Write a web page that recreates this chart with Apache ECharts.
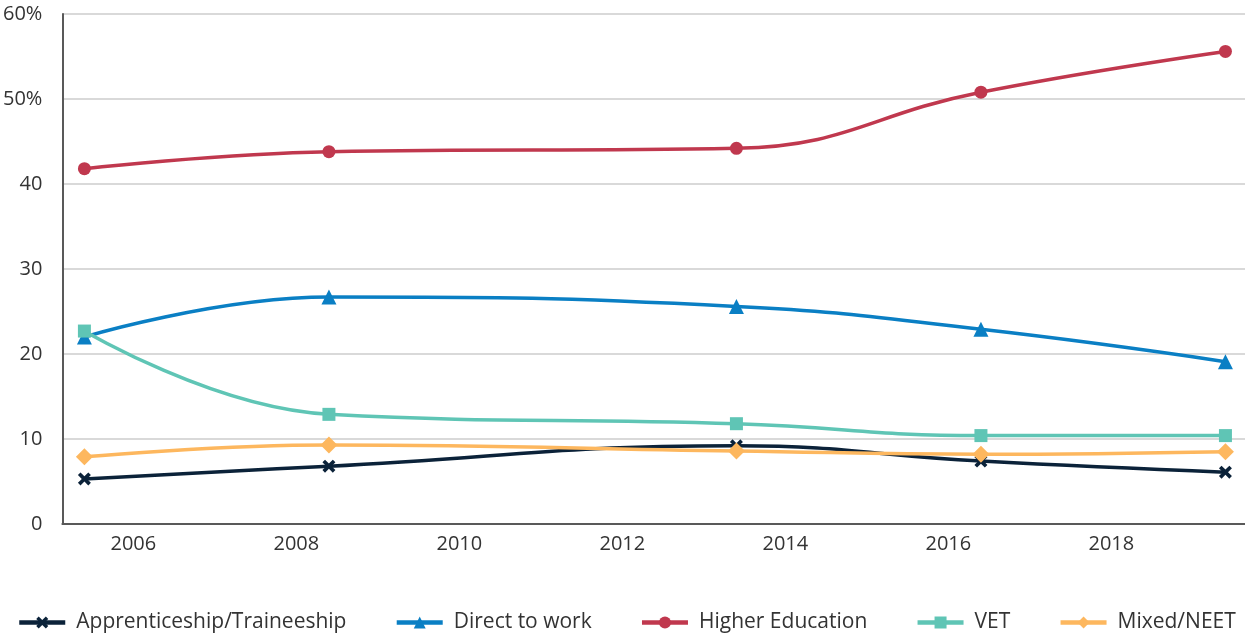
<!DOCTYPE html>
<html>
<head>
<meta charset="utf-8">
<script src="https://cdn.jsdelivr.net/npm/echarts@6/dist/echarts.min.js"></script>
<style>
  html, body { margin: 0; padding: 0; background: #fff; }
  #chart { width: 1245px; height: 638px; }
</style>
</head>
<body>
<div id="chart"></div>
<script>
const years = [2005.4, 2008.4, 2013.4, 2016.4, 2019.4];
const xTicks = [2006, 2008, 2010, 2012, 2014, 2016, 2018];

const apprenticeship = [5.3, 6.8, 9.2, 7.4, 6.1];
const directToWork = [22.0, 26.7, 25.6, 22.9, 19.1];
const higherEducation = [41.8, 43.8, 44.2, 50.8, 55.6];
const vet = [22.7, 12.9, 11.8, 10.4, 10.4];
const mixedNeet = [7.9, 9.3, 8.6, 8.2, 8.5];

const crossPath = 'path://M2,0 L5,3 L8,0 L10,2 L7,5 L10,8 L8,10 L5,7 L2,10 L0,8 L3,5 L0,2 Z';
const font = '"Open Sans", "Noto Sans", sans-serif';

const chart = echarts.init(document.getElementById('chart'));

function pairs(vals) {
  return vals.map((v, i) => [years[i], v]);
}

function line(name, vals, color, symbol, size) {
  return {
    name,
    type: 'line',
    data: pairs(vals),
    smooth: 0.45,
    symbol,
    symbolSize: size,
    showSymbol: true,
    lineStyle: { width: 3.5, color },
    itemStyle: { color },
  };
}

chart.setOption({
  animation: false,
  backgroundColor: '#fff',
  textStyle: { fontFamily: font },
  grid: { top: 14, bottom: 114, left: 62, right: 0, containLabel: false },
  legend: {
    bottom: 0,
    left: 12,
    width: 1233,
    itemWidth: 46,
    itemHeight: 15,
    itemGap: 48,
    lineStyle: { width: 4.5 },
    textStyle: { fontSize: 21, color: '#333', fontFamily: font, padding: [0, 0, 0, 6] },
  },
  xAxis: {
    type: 'value',
    min: 2005.13,
    max: 2019.64,
    axisLine: { lineStyle: { color: '#595959', width: 2 } },
    axisTick: { show: false },
    splitLine: { show: false },
    axisLabel: {
      customValues: xTicks,
      fontSize: 20,
      color: '#333',
      margin: 10,
      formatter: (v) => String(v),
    },
  },
  yAxis: {
    type: 'value',
    min: 0,
    max: 60,
    interval: 10,
    axisLine: { show: true, lineStyle: { color: '#595959', width: 2 } },
    axisTick: { show: false },
    splitLine: { lineStyle: { color: '#cccccc', width: 1.5 } },
    axisLabel: {
      fontSize: 20,
      color: '#333',
      margin: 20,
      formatter: (v) => (v >= 50 ? v + '%' : String(v)),
    },
  },
  series: [
    line('Apprenticeship/Traineeship', apprenticeship, '#0b2239', crossPath, 13),
    line('Direct to work', directToWork, '#0a7fc4', 'triangle', 15),
    line('Higher Education', higherEducation, '#c0384e', 'circle', 13),
    line('VET', vet, '#5fc5b5', 'rect', 13),
    line('Mixed/NEET', mixedNeet, '#fdb75e', 'diamond', 17),
  ],
});

window.addEventListener('resize', () => chart.resize());
</script>
</body>
</html>
